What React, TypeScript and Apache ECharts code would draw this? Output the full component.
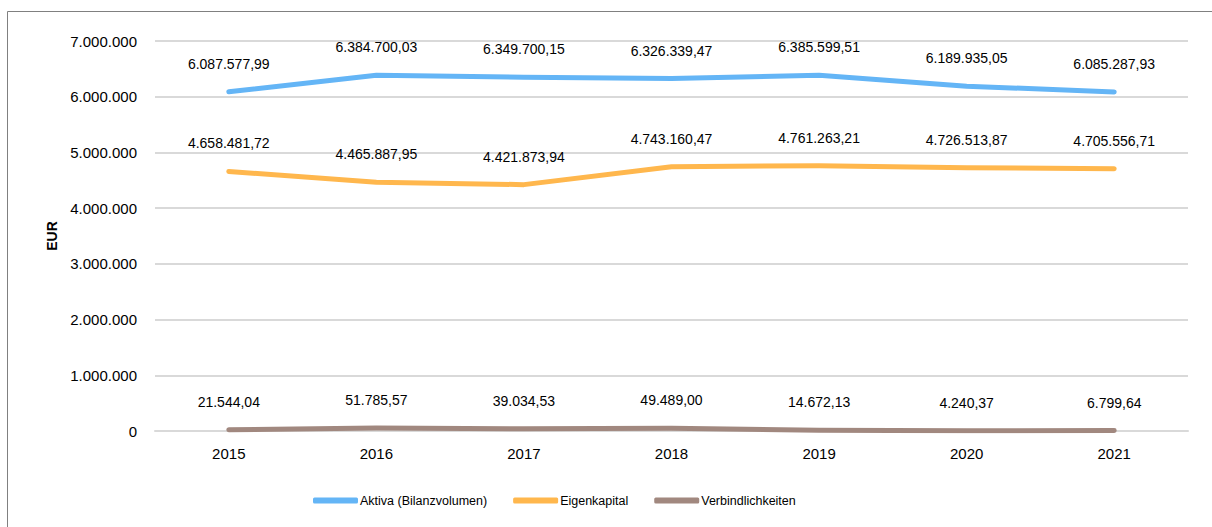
import React, { useEffect, useRef } from "react";
import * as echarts from "echarts";

const years = ["2015", "2016", "2017", "2018", "2019", "2020", "2021"];
const aktiva = [6087577.99, 6384700.03, 6349700.15, 6326339.47, 6385599.51, 6189935.05, 6085287.93];
const eigenkapital = [4658481.72, 4465887.95, 4421873.94, 4743160.47, 4761263.21, 4726513.87, 4705556.71];
const verbindlichkeiten = [21544.04, 51785.57, 39034.53, 49489.0, 14672.13, 4240.37, 6799.64];
const seriesNames = ["Aktiva (Bilanzvolumen)", "Eigenkapital", "Verbindlichkeiten"];
const colors = ["#64B5F6", "#FFB74D", "#A1887F"];

const FONT = "'Liberation Sans', Arial, sans-serif";

function fmtDE(v: number, decimals: number): string {
  const fixed = v.toFixed(decimals);
  const [intPart, dec] = fixed.split(".");
  const withDots = intPart.replace(/\B(?=(\d{3})+(?!\d))/g, ".");
  return dec !== undefined ? withDots + "," + dec : withDots;
}

export default function App() {
  const ref = useRef<HTMLDivElement>(null);
  useEffect(() => {
    if (!ref.current) return;
    const chart = echarts.init(ref.current, undefined, { renderer: "svg" });
    const mk = (name: string, data: number[], color: string) => ({
      name,
      type: "line",
      data,
      symbol: "circle",
      symbolSize: 0.01,
      showSymbol: true,
      lineStyle: { width: 5, color, cap: "round", join: "round" },
      itemStyle: { color },
      label: {
        show: true,
        position: "top",
        distance: 21,
        fontFamily: FONT,
        fontSize: 14,
        color: "#000",
        formatter: (p: any) => fmtDE(p.value, 2),
      },
    });
    chart.setOption({
      animation: false,
      backgroundColor: "#fff",
      textStyle: { fontFamily: FONT },
      graphic: [
        {
          type: "rect",
          shape: { x: 7.5, y: 11.5, width: 1300, height: 600 },
          style: { fill: "none", stroke: "#808080", lineWidth: 1 },
          silent: true,
          z: 100,
        },
      ],
      grid: { left: 155, right: 24, top: 41, bottom: 96, containLabel: false },
      legend: {
        left: 313,
        top: 494,
        padding: 0,
        itemWidth: 45,
        itemHeight: 6,
        itemGap: 26,
        icon: "roundRect",
        textStyle: { fontFamily: FONT, fontSize: 12.5, color: "#000", padding: [0, 0, 0, -3] },
        data: seriesNames,
      },
      xAxis: {
        type: "category",
        data: years,
        boundaryGap: true,
        axisLine: { show: true, lineStyle: { color: "#d9d9d9", width: 2 } },
        axisTick: { show: false },
        axisLabel: { fontFamily: FONT, fontSize: 15, color: "#000", margin: 15 },
      },
      yAxis: {
        type: "value",
        min: 0,
        max: 7000000,
        interval: 1000000,
        name: "EUR",
        nameLocation: "middle",
        nameGap: 91,
        nameRotate: 90,
        nameTextStyle: { fontFamily: FONT, fontSize: 14, fontWeight: "bold", color: "#000" },
        axisLine: { show: false },
        axisTick: { show: false },
        splitLine: { lineStyle: { color: "#d9d9d9", width: 2 } },
        axisLabel: {
          fontFamily: FONT,
          fontSize: 15,
          color: "#000",
          margin: 18,
          formatter: (v: number) => fmtDE(v, 0),
        },
      },
      series: [
        mk(seriesNames[0], aktiva, colors[0]),
        mk(seriesNames[1], eigenkapital, colors[1]),
        mk(seriesNames[2], verbindlichkeiten, colors[2]),
      ],
    });
    return () => chart.dispose();
  }, []);
  return (
    <div
      ref={ref}
      style={{ position: "absolute", left: 0, top: 0, width: 1212, height: 527 }}
    />
  );
}
